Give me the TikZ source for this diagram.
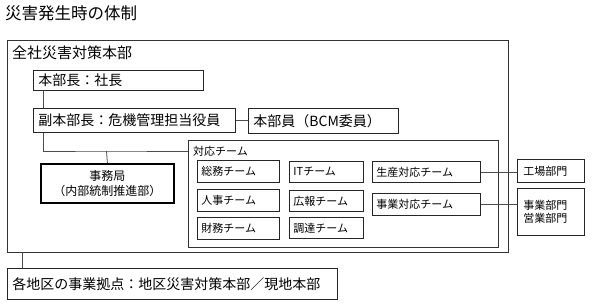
\documentclass[tikz,border=0pt]{standalone}
\usepackage{fontspec}
\setmainfont{Noto Sans CJK JP}
\usetikzlibrary{calc}
\tikzset{
  box/.style={draw=black!85, line width=0.9pt, rectangle, anchor=north west, inner xsep=5pt, inner ysep=0pt, align=left, text=black},
  tbox/.style={box, inner xsep=4pt, font=\fontsize{11}{13}\selectfont},
  conn/.style={draw=black!70, line width=0.8pt},
  lbl/.style={anchor=west, inner sep=0pt, text=black}
}
\begin{document}
\begin{tikzpicture}[x=1pt,y=-1pt]
\useasboundingbox[fill=white] (0,0) rectangle (593,303);
% title
\node[lbl, font=\fontsize{16.5}{18}\selectfont] (title) at (5,13) {災害発生時の体制};
% outer box
\node[draw=black!80, line width=0.9pt, rectangle, anchor=north west, minimum width=501pt, minimum height=212pt, inner sep=0pt] (outer) at (7,40) {};
\node[lbl, font=\fontsize{15}{17}\selectfont] (outerlbl) at (12,53) {全社災害対策本部};
% top boxes
\node[box, font=\fontsize{14}{16}\selectfont, minimum height=20pt, text width=160pt] (honbucho) at (33,70) {本部長：社長};
\node[box, font=\fontsize{14}{16}\selectfont, minimum height=24pt, text width=192pt] (fuku) at (33,108) {副本部長：危機管理担当役員};
\node[box, font=\fontsize{14}{16}\selectfont, minimum height=25pt, text width=140pt] (honbuin) at (248,108) {本部員（BCM委員）};
% jimukyoku
\node[draw=black, line width=1.8pt, rectangle, anchor=north west, minimum width=133pt, minimum height=39pt, inner sep=0pt, align=center, font=\fontsize{12}{15}\selectfont] (jimu) at (40,163) {事務局\\（内部統制推進部）};
% taio team frame
\node[draw=black!80, line width=0.9pt, rectangle, anchor=north west, minimum width=310pt, minimum height=107pt, inner sep=0pt] (taio) at (188,140) {};
\node[lbl, font=\fontsize{11}{13}\selectfont] (taiolbl) at (193,151) {対応チーム};
% teams
\node[tbox, minimum height=22pt, text width=74pt] (somu) at (197,160) {総務チーム};
\node[tbox, minimum height=22pt, text width=74pt] (jinji) at (197,189) {人事チーム};
\node[tbox, minimum height=22pt, text width=74pt] (zaimu) at (197,217) {財務チーム};
\node[tbox, minimum height=21pt, text width=66pt] (it) at (289,161) {ITチーム};
\node[tbox, minimum height=21pt, text width=66pt] (koho) at (289,190) {広報チーム};
\node[tbox, minimum height=21pt, text width=66pt] (chotatsu) at (289,217) {調達チーム};
\node[tbox, minimum height=21pt, text width=100pt] (seisan) at (372,161) {生産対応チーム};
\node[tbox, minimum height=22pt, text width=100pt] (jigyo) at (372,193) {事業対応チーム};
% departments
\node[tbox, minimum height=23pt, text width=55pt, inner xsep=6pt] (kojo) at (517,159) {工場部門};
\node[tbox, minimum height=47pt, text width=55pt, inner xsep=6pt] (eigyo) at (517,188) {事業部門\\営業部門};
% bottom box
\node[box, font=\fontsize{14}{16}\selectfont, minimum height=31pt, text width=320pt] (chiku) at (7,268) {各地区の事業拠点：地区災害対策本部／現地本部};
% connectors
\draw[conn] ([xshift=10pt]honbucho.south west) -- ([xshift=10pt]fuku.north west);
\draw[conn] (fuku.east) -- (fuku.east -| honbuin.west);
\coordinate (jn) at (106.5,151);
\draw[conn] ([xshift=10pt]fuku.south west) |- (jn) -- (jn -| taio.west);
\draw[conn] (jn) -- (jimu.north);
\draw[conn] (seisan.east) -- (seisan.east -| kojo.west);
\draw[conn] (jigyo.east) -- (jigyo.east -| eigyo.west);
\draw[conn] ([xshift=15pt]outer.south west) -- ([xshift=15pt]chiku.north west);
\end{tikzpicture}
\end{document}
